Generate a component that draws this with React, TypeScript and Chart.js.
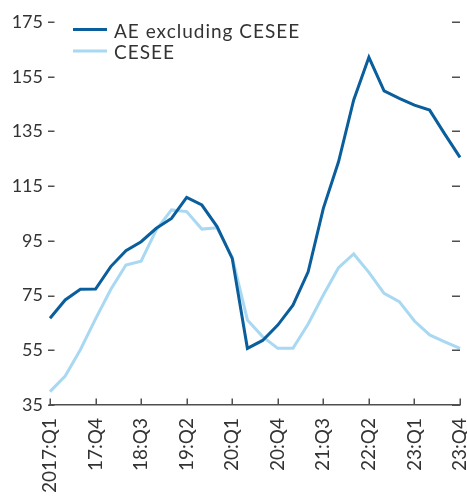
import React, { useEffect, useRef } from "react";
import { Chart, registerables } from "chart.js";

Chart.register(...registerables);

const quarters: string[] = [
  "2017:Q1", "17:Q2", "17:Q3", "17:Q4",
  "18:Q1", "18:Q2", "18:Q3", "18:Q4",
  "19:Q1", "19:Q2", "19:Q3", "19:Q4",
  "20:Q1", "20:Q2", "20:Q3", "20:Q4",
  "21:Q1", "21:Q2", "21:Q3", "21:Q4",
  "22:Q1", "22:Q2", "22:Q3", "22:Q4",
  "23:Q1", "23:Q2", "23:Q3", "23:Q4",
];

const aeExCesee: number[] = [
  66.7, 73.4, 77.3, 77.4, 85.6, 91.4, 94.7, 99.6, 103.2, 110.9, 108.1, 100.2, 88.6, 55.7,
  58.6, 64.2, 71.5, 83.7, 106.9, 123.9, 146.5, 162.1, 149.8, 147.1, 144.6, 142.8, 134.0, 125.5,
];

const cesee: number[] = [
  39.9, 45.6, 55.2, 66.5, 77.2, 86.2, 87.6, 99.0, 106.3, 105.7, 99.3, 99.8, 89.0, 66.1,
  60.0, 55.7, 55.7, 64.6, 75.2, 85.2, 90.2, 83.5, 75.8, 72.8, 65.7, 60.6, 58.1, 55.7,
];

const yTickValues: number[] = [35, 55, 75, 95, 115, 135, 155, 175];

const seriesNames: string[] = ["AE excluding CESEE", "CESEE"];
const seriesColors: string[] = ["#0a5e9c", "#a8d8f2"];

const TEXT = "#333333";
const AXIS = "#4f4f4f";
const FONT = "Lato";

const decorPlugin = {
  id: "decor",
  afterDraw(chart: any) {
    const { ctx, chartArea, scales } = chart;
    const xs = scales.x;
    const ys = scales.y;
    ctx.save();
    ctx.strokeStyle = AXIS;
    ctx.lineWidth = 1.5;
    // x tick marks (inward)
    quarters.forEach((_, i) => {
      if (i % 3 !== 0) return;
      const px = Math.round(xs.getPixelForValue(i)) + 0.25;
      ctx.beginPath();
      ctx.moveTo(px, chartArea.bottom);
      ctx.lineTo(px, chartArea.bottom - 6.5);
      ctx.stroke();
    });
    // y tick marks left & right
    yTickValues.forEach((v) => {
      const py = Math.round(ys.getPixelForValue(v)) + 0.25;
      ctx.beginPath();
      ctx.moveTo(chartArea.left - 2, py);
      ctx.lineTo(chartArea.left + 4.5, py);
      ctx.stroke();
      ctx.beginPath();
      ctx.moveTo(chartArea.right - 8, py);
      ctx.lineTo(chartArea.right, py);
      ctx.stroke();
    });
    // legend
    ctx.font = `19px ${FONT}`;
    (ctx as any).letterSpacing = "1px";
    ctx.textBaseline = "alphabetic";
    ctx.textAlign = "left";
    chart.data.datasets.forEach((ds: any, i: number) => {
      const ly = 29.5 + i * 21.5;
      ctx.strokeStyle = ds.borderColor;
      ctx.lineWidth = 3;
      ctx.beginPath();
      ctx.moveTo(73, ly);
      ctx.lineTo(107, ly);
      ctx.stroke();
      ctx.fillStyle = TEXT;
      ctx.fillText(ds.label, 114, ly + 8);
    });
    (ctx as any).letterSpacing = "0px";
    ctx.restore();
  },
};

export default function App() {
  const canvasRef = useRef<HTMLCanvasElement | null>(null);

  useEffect(() => {
    const canvas = canvasRef.current;
    if (!canvas) return;
    const chart = new Chart(canvas, {
      type: "line",
      data: {
        labels: quarters,
        datasets: [
          {
            label: seriesNames[0],
            data: aeExCesee,
            borderColor: seriesColors[0],
            backgroundColor: seriesColors[0],
            borderWidth: 3,
            pointRadius: 0,
            tension: 0,
          },
          {
            label: seriesNames[1],
            data: cesee,
            borderColor: seriesColors[1],
            backgroundColor: seriesColors[1],
            borderWidth: 3,
            pointRadius: 0,
            tension: 0,
          },
        ],
      },
      options: {
        animation: false,
        responsive: false,
        devicePixelRatio: 1,
        layout: { padding: { top: 22, right: 7, left: 0, bottom: 0 } },
        plugins: {
          legend: { display: false },
          tooltip: { enabled: false },
        },
        scales: {
          x: {
            type: "category",
            offset: false,
            grid: { display: false, drawTicks: false },
            border: { display: true, color: AXIS, width: 1.5 },
            ticks: {
              autoSkip: false,
              maxRotation: 90,
              minRotation: 90,
              padding: 13,
              color: TEXT,
              font: { family: FONT, size: 19 },
              callback: (_v: any, i: number) => (i % 3 === 0 ? quarters[i] : ""),
            },
            afterFit: (s: any) => {
              s.height = 92;
              s.paddingLeft = 0;
              s.paddingRight = 0;
            },
          },
          y: {
            min: 35,
            max: 175,
            grid: { display: false, drawTicks: false },
            border: { display: false },
            ticks: {
              stepSize: 20,
              padding: 7,
              color: TEXT,
              font: { family: FONT, size: 18 },
            },
            afterFit: (s: any) => {
              s.width = 50;
            },
          },
        },
      },
      plugins: [decorPlugin],
    });
    return () => chart.destroy();
  }, []);

  return (
    <div style={{ position: "absolute", left: 0, top: 0, width: 467, height: 497 }}>
      <canvas ref={canvasRef} width={467} height={497} style={{ display: "block" }} />
    </div>
  );
}
